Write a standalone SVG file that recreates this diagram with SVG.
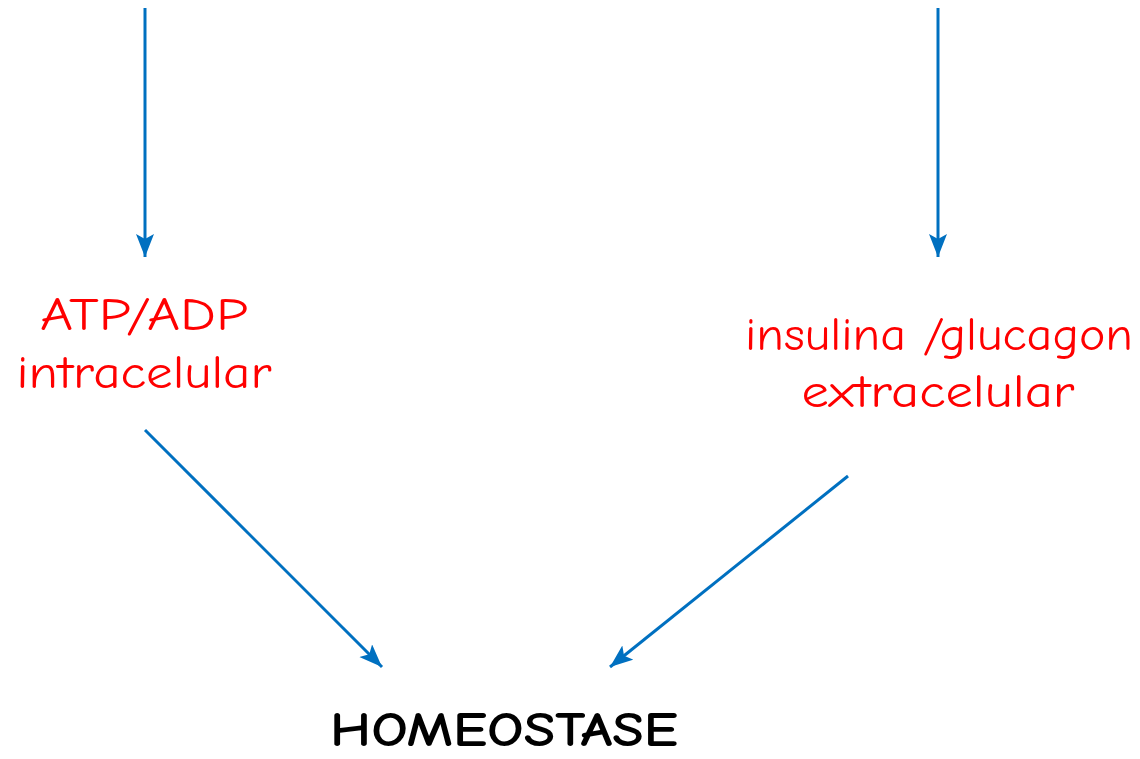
<svg xmlns="http://www.w3.org/2000/svg" width="1140" height="759" viewBox="0 0 1140 759">
<style>
.c{stroke:#0070C0;stroke-width:3;fill:none;marker-end:url(#ah)}
.r{fill:#FF0000;font-family:"Comic Neue","DejaVu Sans","Liberation Sans",sans-serif;font-size:47px;text-anchor:middle}
.b{fill:#000;font-family:"Comic Neue","DejaVu Sans","Liberation Sans",sans-serif;font-weight:bold;font-size:48px;text-anchor:middle}
</style>
<defs>
<marker id="ah" markerUnits="userSpaceOnUse" markerWidth="26" markerHeight="20" refX="23" refY="9" orient="auto" viewBox="0 0 26 20">
<path d="M0,0 L23,9 L0,18 L5,9 z" fill="#0070C0"/>
</marker>
</defs>
<rect width="1140" height="759" fill="#fff"/>
<g id="connectors">
<line class="c" x1="145" y1="8" x2="145" y2="257"/>
<line class="c" x1="938" y1="8" x2="938" y2="257"/>
<line class="c" x1="145" y1="430" x2="382" y2="667"/>
<line class="c" x1="848" y1="476" x2="610" y2="667"/>
</g>
<g id="atp"><text class="r" x="144" y="330" textLength="208" lengthAdjust="spacingAndGlyphs">ATP/ADP</text><text class="r" x="144" y="388" textLength="255" lengthAdjust="spacingAndGlyphs">intracelular</text></g>
<g id="insulina"><text class="r" x="939" y="350" textLength="388" lengthAdjust="spacingAndGlyphs">insulina /glucagon</text><text class="r" x="938" y="407" textLength="273" lengthAdjust="spacingAndGlyphs">extracelular</text></g>
<g id="homeostase"><text class="b" x="504" y="746" textLength="348" lengthAdjust="spacingAndGlyphs">HOMEOSTASE</text></g>
</svg>
